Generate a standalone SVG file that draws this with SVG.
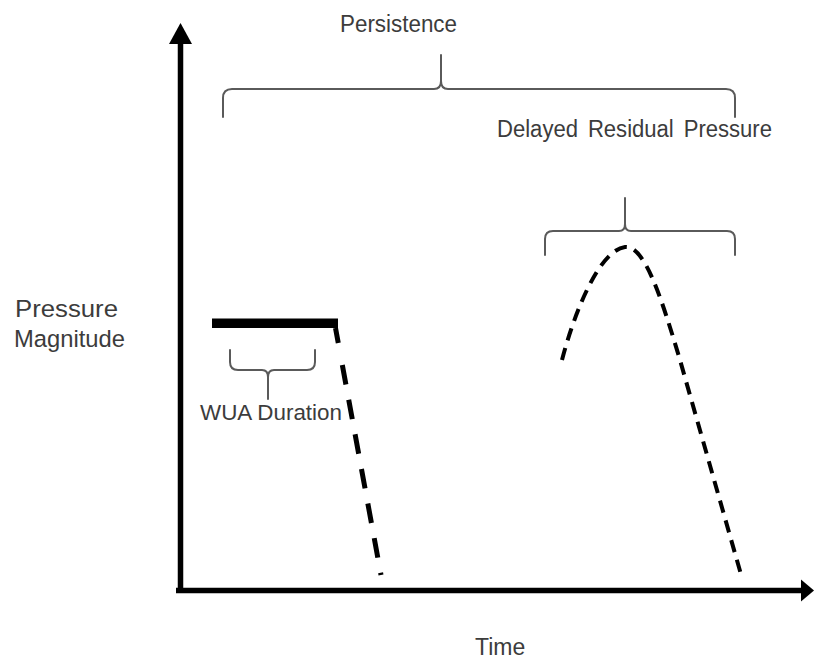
<svg xmlns="http://www.w3.org/2000/svg" width="814" height="660" viewBox="0 0 814 660">
  <style>
    .label { font-family: "Liberation Sans", Arial, sans-serif; font-size: 22px; fill: #3c3c3c; }
    .brace { fill: none; stroke: #5a5a5a; stroke-width: 2; stroke-linecap: round; stroke-linejoin: round; }
    .axis { stroke: #000; stroke-width: 5.5; fill: none; }
    .dash { fill: none; stroke: #000; stroke-linecap: butt; }
  </style>
  <rect width="814" height="660" fill="#ffffff"/>

  <!-- axes -->
  <g id="axes">
    <line class="axis" x1="180.5" y1="40" x2="180.5" y2="593"/>
    <polygon points="180.5,23 169,44 192,44" fill="#000"/>
    <line class="axis" x1="176" y1="590.5" x2="804" y2="590.5"/>
    <polygon points="814,590.5 801,579.5 801,601.5" fill="#000"/>
  </g>

  <!-- axis titles -->
  <g id="y-title">
    <text class="label" x="15" y="317" style="font-size:24.5px" textLength="103" lengthAdjust="spacingAndGlyphs">Pressure</text>
    <text class="label" x="14" y="347" style="font-size:24.5px" textLength="111" lengthAdjust="spacingAndGlyphs">Magnitude</text>
  </g>
  <g id="x-title">
    <text class="label" x="475" y="655" style="font-size:23px">Time</text>
  </g>

  <!-- persistence brace -->
  <g id="persistence">
    <path class="brace" d="M223,117 V98 Q223,89 232,89 H434 Q441,89 441,81 V55 M735,117 V98 Q735,89 726,89 H448 Q441,89 441,81"/>
    <text class="label" x="340" y="32" style="font-size:23.5px" textLength="117" lengthAdjust="spacingAndGlyphs">Persistence</text>
  </g>

  <!-- delayed residual pressure brace -->
  <g id="delayed">
    <text class="label" x="497" y="137" style="font-size:23.5px;word-spacing:4px" textLength="275" lengthAdjust="spacingAndGlyphs">Delayed Residual Pressure</text>
    <path class="brace" d="M545,255 V239 Q545,231 553,231 H619 Q625,231 625,224 V198 M735,255 V239 Q735,231 727,231 H631 Q625,231 625,224"/>
  </g>

  <!-- WUA period -->
  <g id="wua">
    <rect x="212" y="318.5" width="126" height="9.5" fill="#000"/>
    <path class="brace" d="M230,350 V362 Q230,370 238,370 H262 Q268,370 268,377 V399 M315,350 V362 Q315,370 307,370 H274 Q268,370 268,377"/>
    <text class="label" x="200" y="420" textLength="142" lengthAdjust="spacingAndGlyphs">WUA Duration</text>
  </g>

  <!-- pressure decay and residual curve -->
  <g id="connectors">
    <path class="dash" stroke-width="5" stroke-dasharray="15.3 22.4 19.8 15.4 19.8 15.4 19.8 15.4 19.8 15.4 19.8 15.4 19.8 15.4 3 100" d="M335.5,328 L381,575"/>
    <path class="dash" stroke-width="4" stroke-dasharray="12.5 8" d="M562,360 C575,310 600,250 625,247 C645,245 662,300 680,360 L742,578"/>
  </g>
</svg>
